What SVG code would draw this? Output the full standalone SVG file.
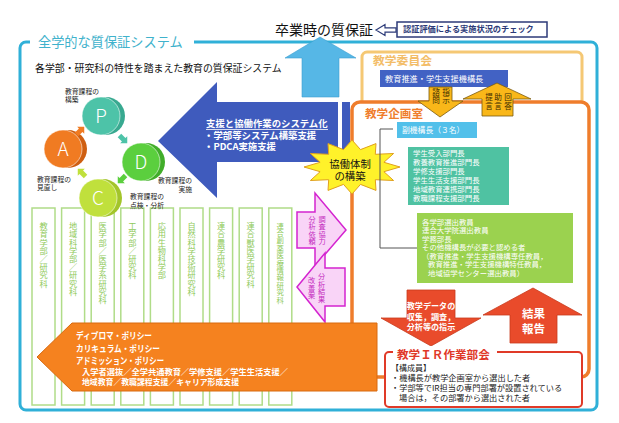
<svg xmlns="http://www.w3.org/2000/svg" width="619" height="423" viewBox="0 0 619 423">
<style>
text{font-family:"Noto Sans CJK JP","Noto Sans",sans-serif}
.b{font-weight:bold}
.w{fill:#fff}
.col{fill:#fff;stroke:#b0dc88;stroke-width:1.5}
.ct{fill:#8fca5a;font-size:8.2px;text-anchor:middle}
.pu{fill:#f9d4f7;stroke:#d424d0;stroke-width:1.5}
.pt{fill:#c42cc0;font-size:7.2px;text-anchor:middle}
.gold{fill:#f9b719;stroke:#7a5a10;stroke-width:0.8}
.gt{fill:#3a2a00;font-size:7.6px;text-anchor:middle}
.red{fill:#e94b2b;stroke:#c83a1c;stroke-width:0.8}
.lab{font-size:6.8px;fill:#222}
.sm{font-size:7.4px;fill:#fff}
</style>
<rect width="619" height="423" fill="#fff"/>

<!-- outer frame -->
<g id="frame">
<rect x="20" y="42" width="577" height="368" rx="6" fill="none" stroke="#30b0d8" stroke-width="3"/>
<rect x="30" y="35" width="164" height="14" fill="#fff"/>
<text x="38" y="46.5" font-size="13.2" fill="#3fb2cc">全学的な質保証システム</text>
<text x="35" y="72" font-size="9.9" fill="#111">各学部・研究科の特性を踏まえた教育の質保証システム</text>
</g>

<!-- top -->
<g id="graduation">
<text x="275" y="34.5" font-size="14" fill="#111">卒業時の質保証</text>
</g>
<g id="check">
<rect x="397" y="22" width="150" height="15" fill="#fff" stroke="#2c3a78" stroke-width="1.5"/>
<text x="403" y="31.5" font-size="8.2" class="b" fill="#2c3a78">認証評価による実施状況のチェック</text>
</g>

<!-- committee boxes -->
<g id="kyogaku-iinkai">
<rect x="362" y="52" width="220" height="60" rx="5" fill="#fff" stroke="#f5c874" stroke-width="3"/>
<text x="373" y="65" font-size="11.8" class="b" fill="#f3bd68">教学委員会</text>
<rect x="380" y="70" width="128" height="17" fill="#4262c4"/>
<text x="385" y="82" font-size="8.2" class="w">教育推進・学生支援機構長</text>
</g>
<g id="kyogaku-kikakushitsu">
<rect x="352" y="102" width="237" height="275" rx="8" fill="#fff" stroke="#ef7d2c" stroke-width="3.5"/>
<text x="365" y="117.5" font-size="11.6" class="b" fill="#ef7d2c">教学企画室</text>
<rect x="397" y="122" width="80" height="16" fill="#52c0ea"/>
<text x="402" y="132.5" font-size="7.8" class="w">副機構長（３名）</text>
<rect x="408" y="147" width="101" height="58" fill="#4fc2a2"/>
<g class="sm">
<text x="413" y="155.7">学生受入部門長</text>
<text x="413" y="164.7">教養教育推進部門長</text>
<text x="413" y="173.7">学修支援部門長</text>
<text x="413" y="182.7">学生生活支援部門長</text>
<text x="413" y="191.7">地域教育連携部門長</text>
<text x="413" y="200.7">教職課程支援部門長</text>
</g>
<rect x="417" y="213" width="156" height="70" fill="#9bd24f"/>
<g class="sm">
<text x="422" y="224.7">各学部選出教員</text>
<text x="422" y="233.2">連合大学院選出教員</text>
<text x="422" y="241.7">学務部長</text>
<text x="422" y="250.2">その他機構長が必要と認める者</text>
<text x="422" y="258.7">（教育推進・学生支援機構専任教員，</text>
<text x="428" y="267.2">教育推進・学生支援機構特任教員，</text>
<text x="428" y="275.7">地域協学センター選出教員）</text>
</g>
</g>

<!-- faculty columns -->
<g id="faculties">
<rect class="col" x="32" y="208" width="23" height="197"/>
<rect class="col" x="61.6" y="208" width="23" height="197"/>
<rect class="col" x="91.2" y="208" width="23" height="197"/>
<rect class="col" x="120.8" y="208" width="23" height="197"/>
<rect class="col" x="150.4" y="208" width="23" height="197"/>
<rect class="col" x="180" y="208" width="23" height="197"/>
<rect class="col" x="209.6" y="208" width="23" height="197"/>
<rect class="col" x="239.2" y="208" width="23" height="197"/>
<rect class="col" x="268.8" y="208" width="23" height="197"/>
<text class="ct" transform="translate(43.5,0)" x="0 0 0 0 0 0 0 0" y="229.2 237.4 245.6 253.8 262 270.2 278.4 286.6">教育学部／研究科</text>
<text class="ct" transform="translate(73.1,0)" x="0 0 0 0 0 0 0 0 0" y="229.2 237.4 245.6 253.8 262 270.2 278.4 286.6 294.8">地域科学部／研究科</text>
<text class="ct" transform="translate(102.7,0)" x="0 0 0 0 0 0 0 0 0 0" y="229.2 237.4 245.6 253.8 262 270.2 278.4 286.6 294.8 303">医学部／医学系研究科</text>
<text class="ct" transform="translate(132.3,0)" x="0 0 0 0 0 0 0" y="229.2 237.4 245.6 253.8 262 270.2 278.4">工学部／研究科</text>
<text class="ct" transform="translate(161.9,0)" x="0 0 0 0 0 0 0" y="229.2 237.4 245.6 253.8 262 270.2 278.4">応用生物科学部</text>
<text class="ct" transform="translate(191.5,0)" x="0 0 0 0 0 0 0 0 0" y="229.2 237.4 245.6 253.8 262 270.2 278.4 286.6 294.8">自然科学技術研究科</text>
<text class="ct" transform="translate(221.1,0)" x="0 0 0 0 0 0 0" y="229.2 237.4 245.6 253.8 262 270.2 278.4">連合農学研究科</text>
<text class="ct" transform="translate(250.7,0)" x="0 0 0 0 0 0 0 0" y="229.2 237.4 245.6 253.8 262 270.2 278.4 286.6">連合獣医学研究科</text>
<text class="ct" style="font-size:7.4px" transform="translate(280.3,0)" x="0 0 0 0 0 0 0 0 0 0 0" y="228.5 235.9 243.3 250.7 258.1 265.5 272.9 280.3 287.7 295.1 302.5">連合創薬医療情報研究科</text>
</g>

<!-- PDCA cycle -->
<g id="pdca-p">
<circle cx="106" cy="116" r="19" fill="#38a990"/>
<circle cx="101" cy="116" r="19" fill="#4dc3a8" stroke="#fff" stroke-width="0.8" stroke-opacity="0.7"/>
<text x="101" y="123" font-size="19" text-anchor="middle" font-weight="300" class="w">P</text>
<text class="lab" x="65" y="93.5">教育課程の</text>
<text class="lab" x="65" y="101.5">構築</text>
</g>
<g id="pdca-a">
<circle cx="68" cy="149" r="19" fill="#cf5f12"/>
<circle cx="63" cy="149" r="19" fill="#f07b22" stroke="#fff" stroke-width="0.8" stroke-opacity="0.7"/>
<text x="63" y="156" font-size="19" text-anchor="middle" font-weight="300" class="w">A</text>
<text class="lab" x="37" y="182">教育課程の</text>
<text class="lab" x="37" y="190">見直し</text>
</g>
<g id="pdca-d">
<circle cx="146" cy="162" r="19" fill="#41ad2a"/>
<circle cx="141" cy="162" r="19" fill="#5bcf3e" stroke="#fff" stroke-width="0.8" stroke-opacity="0.7"/>
<text x="141" y="169" font-size="19" text-anchor="middle" font-weight="300" class="w">D</text>
<text class="lab" x="192" y="183" text-anchor="end">教育課程の</text>
<text class="lab" x="192" y="191.5" text-anchor="end">実施</text>
</g>
<g id="pdca-c">
<circle cx="103" cy="198" r="19" fill="#a3c52a"/>
<circle cx="98" cy="198" r="19" fill="#c0e03c" stroke="#fff" stroke-width="0.8" stroke-opacity="0.7"/>
<text x="98" y="205" font-size="19" text-anchor="middle" font-weight="300" class="w">C</text>
<text class="lab" x="130" y="199">教育課程の</text>
<text class="lab" x="130" y="207.5">点検・分析</text>
</g>

<!-- big blue arrow -->
<g id="support-arrow">
<path d="M158,141 L217,82 V102 H338 V162 H217 V198 Z" fill="#3f5bbd"/>
<rect x="342" y="102" width="8" height="60" fill="#3f5bbd"/>
<text x="206" y="127" font-size="9.4" class="b w">支援と協働作業のシステム化</text>
<line x1="206" y1="129.5" x2="328" y2="129.5" stroke="#fff" stroke-width="0.8"/>
<text x="204" y="138.5" font-size="9.4" class="b w">・学部等システム構築支援</text>
<text x="204" y="149.5" font-size="9.4" class="b w">・PDCA実施支援</text>
</g>

<!-- light blue up arrow -->
<g id="up-arrow">
<path d="M320,37 L356,58 H339 V97 H302 V58 H285 Z" fill="#56b7e6" stroke="#3d9fd0" stroke-width="0.6"/>
</g>

<!-- star -->
<g id="collab-star">
<polygon points="400,167 383.9,171.7 393.6,180.5 375.3,179.7 376,190.4 360.5,184.4 352,194 343.5,184.4 328,190.4 328.7,179.7 310.4,180.5 320.1,171.7 304,167 320.1,162.3 310.4,153.5 328.7,154.3 328,143.6 343.5,149.6 352,140 360.5,149.6 376,143.6 375.3,154.3 393.6,153.5 383.9,162.3" fill="#fff22a" stroke="#e0a020" stroke-width="1"/>
<text x="350" y="168" font-size="10.4" text-anchor="middle" fill="#111">協働体制</text>
<text x="350" y="180" font-size="10.4" text-anchor="middle" fill="#111">の構築</text>
</g>

<!-- purple arrows -->
<g id="request-arrow">
<path class="pu" d="M297,212 H315 V193 L346,230 L315,266 V248 H297 Z"/>
<text class="pt" transform="translate(322,0)" x="0 0 0 0" y="221.5 229 236.5 244">調査協力</text>
<text class="pt" transform="translate(312,0)" x="0 0 0 0" y="221.5 229 236.5 244">分析依頼</text>
</g>
<g id="result-arrow">
<path class="pu" d="M297,287 L325,253 V268 H345 V306 H325 V322 Z"/>
<text class="pt" transform="translate(321.5,0)" x="0 0 0 0" y="279 286.5 294 301.5">分析結果</text>
<text class="pt" transform="translate(311.5,0)" x="0 0 0" y="283 290.5 298">改善案</text>
</g>

<!-- orange policy arrow -->
<g id="policy-arrow">
<path d="M37,357 L72,323 H377 V391 H72 Z" fill="#f5821f" stroke="#d86a10" stroke-width="1"/>
<text x="76" y="339" font-size="9.2" class="b w" textLength="76" lengthAdjust="spacingAndGlyphs">ディプロマ・ポリシー</text>
<text x="76" y="351.5" font-size="9.2" class="b w" textLength="84" lengthAdjust="spacingAndGlyphs">カリキュラム・ポリシー</text>
<text x="76" y="364" font-size="9.2" class="b w" textLength="88" lengthAdjust="spacingAndGlyphs">アドミッション・ポリシー</text>
<text x="82" y="375" font-size="8.2" class="b w" textLength="206" lengthAdjust="spacingAndGlyphs">入学者選抜／全学共通教育／学修支援／学生生活支援／</text>
<text x="82" y="384.5" font-size="8.2" class="b w" textLength="157" lengthAdjust="spacingAndGlyphs">地域教育／教職課程支援／キャリア形成支援</text>
</g>

<!-- gold arrows -->
<g id="advice-down">
<path class="gold" d="M429,87 H452 V101 H463 L440,117 L418,101 H429 Z"/>
<text class="gt" transform="translate(436,0)" x="0 0" y="95 103">諮問</text>
<text class="gt" transform="translate(446,0)" x="0 0" y="95 103">指示</text>
</g>
<g id="advice-up">
<path class="gold" d="M497,83 L531,99 H513 V116 H482 V99 H463 Z"/>
<text class="gt" transform="translate(489,0)" x="0 0" y="100 109">提言</text>
<text class="gt" transform="translate(498,0)" x="0 0" y="100 109">助言</text>
<text class="gt" transform="translate(508,0)" x="0 0" y="100 109">回答</text>
</g>

<!-- red arrows -->
<g id="data-arrow">
<path class="red" d="M407,290 H455 V318 H481 L431,346 L381,318 H407 Z"/>
<text x="431" y="309" font-size="8.1" text-anchor="middle" class="b w">教学データの</text>
<text x="431" y="319.5" font-size="8.1" text-anchor="middle" class="b w">収集，調査，</text>
<text x="431" y="330" font-size="8.1" text-anchor="middle" class="b w">分析等の指示</text>
</g>
<g id="report-arrow">
<path class="red" d="M533,288 L582,315 H557 V343 H510 V315 H483 Z"/>
<text x="533.5" y="317.5" font-size="11.5" text-anchor="middle" class="b w">結果</text>
<text x="533.5" y="332.5" font-size="11.5" text-anchor="middle" class="b w">報告</text>
</g>

<!-- IR working group -->
<g id="ir-bukai">
<rect x="385" y="352" width="197" height="55" rx="4" fill="#fff" stroke="#e03a28" stroke-width="2"/>
<rect x="393" y="346" width="104" height="10" fill="#fff"/>
<text x="397" y="359" font-size="11.6" class="b" fill="#e03828">教学ＩＲ作業部会</text>
<text x="391" y="371" font-size="8" fill="#222">【構成員】</text>
<text x="391" y="381" font-size="8.2" fill="#222">・機構長が教学企画室から選出した者</text>
<text x="391" y="391" font-size="8.2" fill="#222">・学部等でIR担当の専門部署が設置されている</text>
<text x="399" y="401" font-size="8.2" fill="#222">場合は，その部署から選出された者</text>
</g>

<!-- connectors -->
<g id="connectors">
<path d="M376,30 L385,24.5 V27.8 H396 V32.2 H385 V35.5 Z" fill="#fff" stroke="#2c3a78" stroke-width="1.2"/>
<path d="M393,129 H380 V248 H417" fill="none" stroke="#555" stroke-width="1"/>
<path d="M-5,-2.5 H1 V-5 L6,0 L1,5 V2.5 H-5 Z" fill="#f07b22" transform="translate(80,131) rotate(-45)"/>
<path d="M-5,-2.5 H1 V-5 L6,0 L1,5 V2.5 H-5 Z" fill="#4dc3a8" transform="translate(123,139) rotate(45)"/>
<path d="M-5,-2.5 H1 V-5 L6,0 L1,5 V2.5 H-5 Z" fill="#5bcf3e" transform="translate(122,179) rotate(135)"/>
<path d="M-5,-2.5 H1 V-5 L6,0 L1,5 V2.5 H-5 Z" fill="#c0e03c" transform="translate(82,173) rotate(-135)"/>
</g>
</svg>
